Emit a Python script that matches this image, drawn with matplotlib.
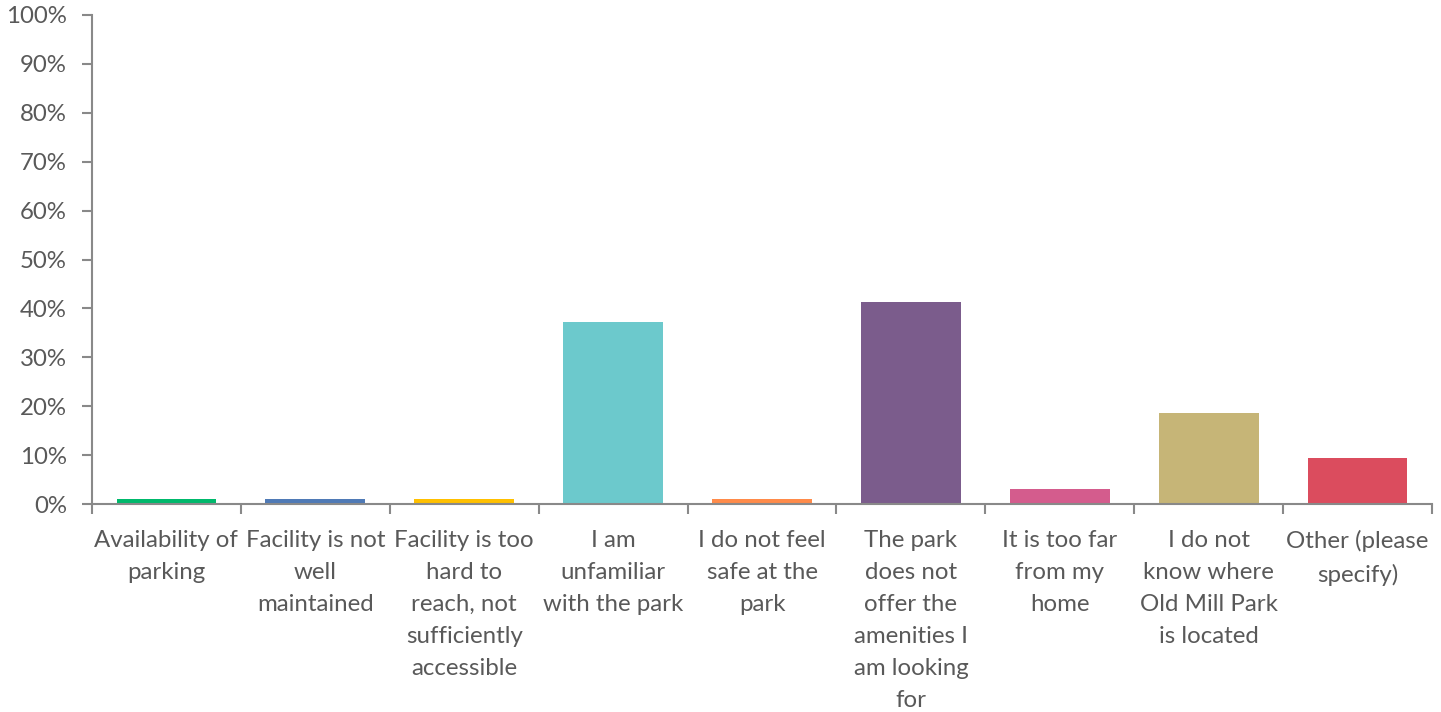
import numpy as np
import matplotlib.pyplot as plt
from matplotlib.ticker import FuncFormatter

categories = ["Availability of\nparking",
              "Facility is not\nwell\nmaintained",
              "Facility is too\nhard to\nreach, not\nsufficiently\naccessible",
              "I am\nunfamiliar\nwith the park",
              "I do not feel\nsafe at the\npark",
              "The park\ndoes not\noffer the\namenities I\nam looking\nfor",
              "It is too far\nfrom my\nhome",
              "I do not\nknow where\nOld Mill Park\nis located",
              "Other (please\nspecify)"]
values = [1.0, 1.0, 1.0, 37.2, 1.0, 41.3, 3.1, 18.6, 9.4]
colors = ["#00B96C", "#4F7AB6", "#FFC000", "#6CC9CC", "#FF8B4A",
          "#7B5C8C", "#D45C8D", "#C6B577", "#DB4C5E"]

text_color = "#595959"
axis_color = "#898989"

plt.rcParams['font.family'] = ['Lato', 'DejaVu Sans']

fig = plt.figure(figsize=(14.41, 7.12), dpi=100)
ax = fig.add_axes([0.0638, 0.292, 0.930, 0.687])

x = np.arange(len(categories))
ax.bar(x, values, width=0.67, color=colors)

ax.set_xlim(-0.5, len(categories) - 0.5)
ax.set_ylim(0, 100)
ax.set_yticks(range(0, 101, 10))
ax.yaxis.set_major_formatter(FuncFormatter(lambda v, p: "%d%%" % v))

ax.set_xticks(x)
ax.set_xticklabels(categories, linespacing=1.65, va="top")
ax.set_xticks(np.arange(-0.5, len(categories)), minor=True)
ax.tick_params(axis="x", which="major", length=0, pad=18.5, labelsize=17.3,
               labelcolor=text_color)
ax.tick_params(axis="x", which="minor", length=7, width=1.5, color=axis_color,
               direction="out")
ax.tick_params(axis="y", length=7, width=1.5, color=axis_color, pad=11,
               labelsize=17.3, labelcolor=text_color)

for s in ["top", "right"]:
    ax.spines[s].set_visible(False)
for s in ["left", "bottom"]:
    ax.spines[s].set_color(axis_color)
    ax.spines[s].set_linewidth(1.5)

plt.savefig("out.png", dpi=100)
plt.close()
